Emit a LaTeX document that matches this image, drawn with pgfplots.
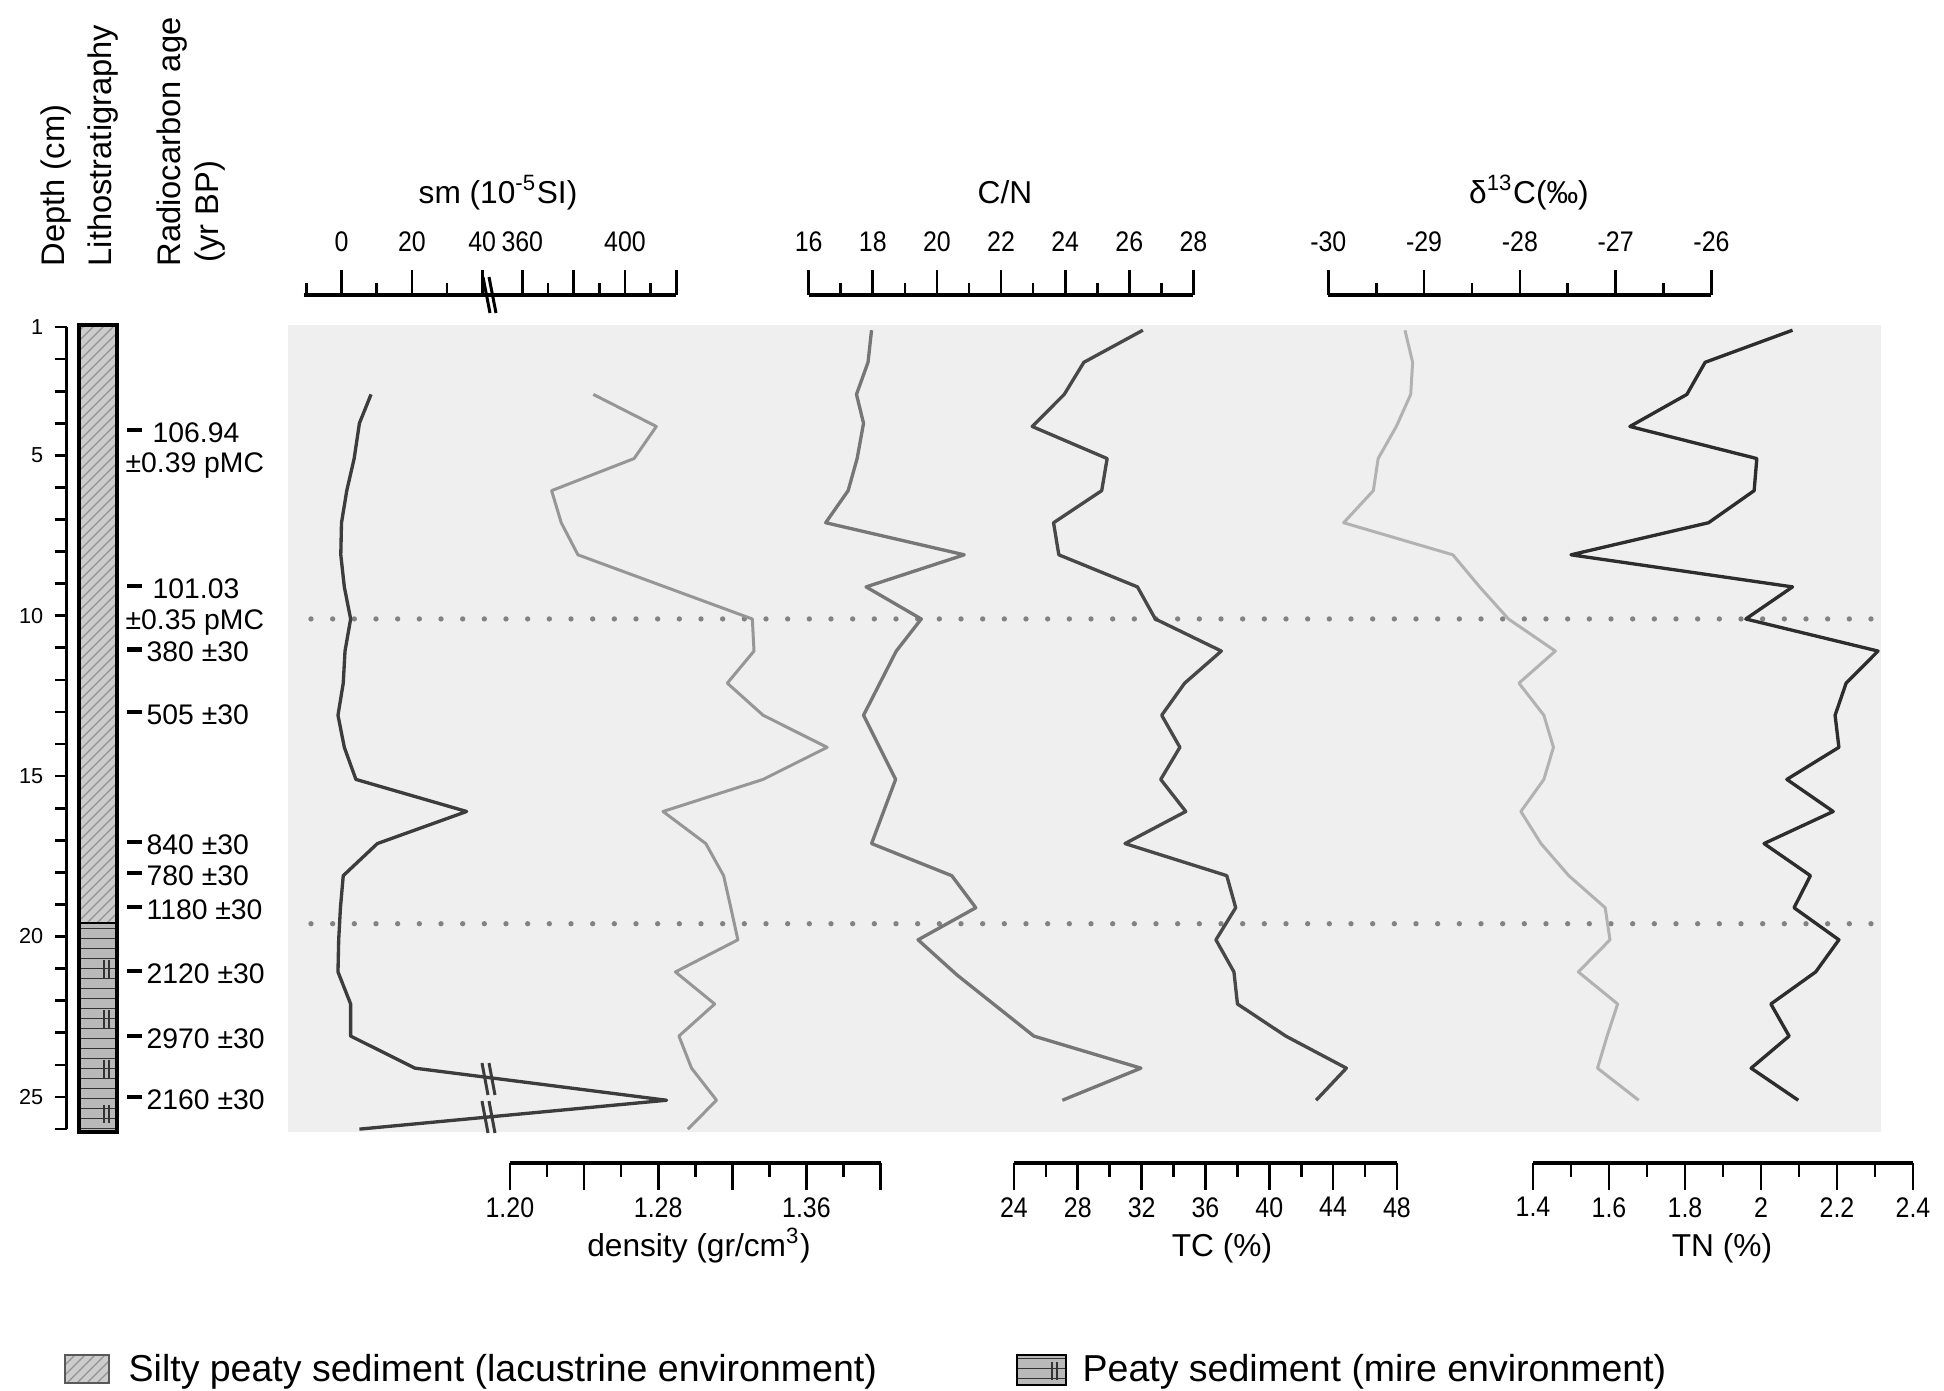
\documentclass[border=0pt]{standalone}
\usepackage{fontspec}
\setmainfont{Liberation Sans}
\newfontfamily\narrowfont{Liberation Sans}[FakeStretch=0.88]
\usepackage{pgfplots}
\pgfplotsset{compat=1.18}
\usepackage{pgfplotstable}
\usetikzlibrary{patterns}

\definecolor{bggray}{RGB}{239,239,239}
\definecolor{smcol}{RGB}{60,60,60}
\definecolor{rhocol}{RGB}{150,150,150}
\definecolor{cncol}{RGB}{118,118,118}
\definecolor{tccol}{RGB}{72,72,72}
\definecolor{dcol}{RGB}{178,178,178}
\definecolor{tncol}{RGB}{45,45,45}
\definecolor{dotcol}{RGB}{130,130,130}

% depth (cm) and value
\pgfplotstableread{
d sm
3.1 8.4
4.0 5.1
5.1 3.6
6.1 1.5
7.1 0.0
8.1 -0.2
9.1 0.8
10.1 2.6
11.1 1.0
12.1 0.5
13.1 -1.0
14.1 0.8
15.1 4.1
16.1 35.6
17.1 10.2
18.1 0.5
19.1 -0.3
20.1 -0.8
21.1 -1.0
22.1 2.6
23.1 2.6
24.1 20.9
25.1 416.2
26.0 5.1
}\smtable

\pgfplotstableread{
d rho
3.1 1.245
4.1 1.279
5.1 1.267
6.1 1.2225
7.1 1.2277
8.1 1.2367
10.1 1.3308
11.1 1.3317
12.1 1.3173
13.1 1.3366
14.1 1.3712
15.1 1.3366
16.1 1.2826
17.1 1.3057
18.1 1.3153
19.1 1.3192
20.1 1.323
21.1 1.2893
22.1 1.3105
23.1 1.2912
24.1 1.298
25.1 1.3115
26.0 1.296
}\rhotable

\pgfplotstableread{
d cn
1.1 17.96
2.1 17.85
3.1 17.49
4.0 17.71
5.1 17.51
6.1 17.23
7.1 16.53
8.1 20.85
9.1 17.79
10.1 19.51
11.1 18.73
13.1 17.71
15.1 18.71
17.1 17.96
18.1 20.46
19.1 21.21
20.1 19.41
21.2 20.63
23.1 23.02
24.1 26.36
25.1 23.91
}\cntable

\pgfplotstableread{
d tc
1.1 32.08
2.1 28.38
3.1 27.15
4.1 25.14
5.1 29.84
6.1 29.5
7.1 26.48
8.1 26.81
9.1 31.74
10.1 32.86
11.1 37.0
12.1 34.7
13.1 33.26
14.1 34.4
15.1 33.2
16.1 34.77
17.1 30.96
18.1 37.34
19.1 37.9
20.1 36.66
21.1 37.79
22.1 38.01
23.1 41.04
24.1 44.84
25.1 42.94
}\tctable

\pgfplotstableread{
d dc
1.1 -29.20
2.1 -29.12
3.1 -29.14
4.1 -29.29
5.1 -29.48
6.1 -29.53
7.1 -29.84
8.1 -28.70
9.1 -28.42
10.1 -28.12
11.1 -27.63
12.1 -28.01
13.1 -27.75
14.1 -27.65
15.1 -27.75
16.1 -27.99
17.1 -27.78
18.1 -27.49
19.1 -27.11
20.1 -27.06
21.1 -27.39
22.1 -26.98
23.1 -27.09
24.1 -27.19
25.1 -26.76
}\dctable

\pgfplotstableread{
d tn
1.1 2.083
2.1 1.853
3.1 1.805
4.1 1.655
5.1 1.989
6.1 1.982
7.1 1.862
8.1 1.50
9.1 2.083
10.1 1.96
11.1 2.308
12.1 2.224
13.1 2.195
14.1 2.205
15.1 2.068
16.1 2.19
17.1 2.008
18.1 2.13
19.1 2.087
20.1 2.205
21.1 2.144
22.1 2.026
23.1 2.074
24.1 1.974
25.1 2.098
}\tntable

\pgfplotsset{
  panel/.style={scale only axis, width=477.9pt, height=242.1pt,
    at={(86.4pt,-97.5pt)}, anchor=north west, y dir=reverse,
    ymin=0.938, ymax=26.09, hide axis, clip=false},
  curve/.style={line width=1pt, line join=round, mark=none},
  bar/.style={scale only axis, height=2pt, ymin=0, ymax=1,
    axis y line=none, ytick=\empty,
    tick style={black, line width=0.8pt},
    xticklabel style={font=\narrowfont\fontsize{8.5}{9}\selectfont},
    /pgf/number format/assume math mode=true},
  topbar/.style={bar, anchor=north west, axis x line=top,
    axis line style={-, line width=1.2pt}, tick align=outside,
    major tick length=7.5pt, minor tick length=3.6pt,
    xticklabel shift=2pt},
  botbar/.style={bar, anchor=south west, axis x line=bottom,
    axis line style={-, line width=1.2pt}, tick align=outside,
    major tick length=8.1pt, minor tick length=4.2pt,
    xticklabel shift=-1.2pt},
}
\newcommand{\titlefont}{\fontsize{9.5}{10}\selectfont}

\begin{document}
\begin{tikzpicture}[x=0.3pt,y=-0.3pt]
\fill[bggray] (288,325) rectangle (1881,1132);
\foreach \yy in {618.9,923.7}
  \draw[dotcol, line width=1.6pt, line cap=round, dash pattern=on 0pt off 6.5pt]
    (311,\yy) -- (1881,\yy);

% depth scale
\begin{axis}[scale only axis, at={(20.01pt,-98.1pt)}, anchor=north west,
  width=66.39pt, height=240.6pt, xmin=66.7, xmax=288, ymin=1, ymax=26,
  y dir=reverse, axis y line=left, axis x line=none,
  axis line style={-, line width=1pt}, tick align=outside,
  ytick={1,5,10,15,20,25}, yticklabels={1,5,10,15,20,25},
  minor ytick={2,...,26}, major tick length=3.5pt, minor tick length=3.5pt,
  tick style={black, line width=0.8pt},
  yticklabel style={font=\fontsize{6.5}{7}\selectfont},
  /pgf/number format/assume math mode=true, clip=false]
\end{axis}

% lithology column
\fill[gray!40] (79,325) rectangle (117,923);
\fill[pattern=north east lines, pattern color=gray!85] (79,325) rectangle (117,923);
\fill[gray!55] (79,923) rectangle (117,1132);
\fill[pattern=horizontal lines, pattern color=black!80] (79,923) rectangle (117,1132);
\foreach \yy in {960,1010,1060,1105}
  \draw[black!80, line width=0.5pt] (104,\yy) -- (104,\yy+18) (109,\yy) -- (109,\yy+18);
\draw[line width=1pt] (79,325) rectangle (117,1132);
\draw[line width=0.8pt] (79,923) -- (117,923);

% radiocarbon ages
\begin{scope}[every node/.style={anchor=west, inner sep=0pt,
    font=\fontsize{8.5}{9}\selectfont, text height=1.6ex, text depth=0.2ex}]
\foreach \yy/\txt/\xx in {430/106.94/152, 586/101.03/152, 649.6/380 ±30/146,
    712/505 ±30/146, 842/840 ±30/146, 873/780 ±30/146, 907/1180 ±30/146,
    971/2120 ±30/146, 1036/2970 ±30/146, 1097/2160 ±30/146}{
  \draw[line width=1.3pt] (127,\yy) -- (142,\yy);
  \node at (\xx,\yy) {\txt};
}
\node at (125,460) {±0.39 pMC};
\node at (125,617) {±0.35 pMC};
\end{scope}

% column headers
\begin{scope}[every node/.style={rotate=90, anchor=west, inner sep=0pt,
    font=\fontsize{9.8}{10}\selectfont}]
\node at (56,267) {Depth (cm)};
\node at (103,267) {Lithostratigraphy};
\node at (172,267) {Radiocarbon age};
\node at (210,263) {(yr BP)};
\end{scope}

% magnetic susceptibility, broken scale
\begin{axis}[panel, xmin=288, xmax=1881]
\addplot[curve, smcol] table[y=d,
  x expr={\thisrow{sm}<100 ? 341.5+3.515*\thisrow{sm} : 522.3+2.567*(\thisrow{sm}-360)}]
  {\smtable};
\end{axis}
\begin{axis}[panel, xmin=1.08028, xmax=1.93973]
\addplot[curve, rhocol, line width=0.9pt] table[x=rho, y=d] {\rhotable};
\end{axis}
\begin{axis}[panel, xmin=-0.236, xmax=49.436]
\addplot[curve, cncol] table[x=cn, y=d] {\cntable};
\end{axis}
\begin{axis}[panel, xmin=-21.517, xmax=78.357]
\addplot[curve, tccol] table[x=tc, y=d] {\tctable};
\end{axis}
\begin{axis}[panel, xmin=-40.859, xmax=-24.231]
\addplot[curve, dcol, line width=0.9pt] table[x=dc, y=d] {\dctable};
\end{axis}
\begin{axis}[panel, xmin=-1.8763, xmax=2.31579]
\addplot[curve, tncol] table[x=tn, y=d] {\tntable};
\end{axis}

% break marks on the sm curve
\foreach \yy in {1079,1117}{
  \draw[smcol, line width=0.9pt] (482,\yy-16) -- (488,\yy+16) (489,\yy-16) -- (495,\yy+16);
}

% top scales
\begin{axis}[topbar, at={(91.08pt,-88.5pt)}, width=56.22pt, xmin=-10.8, xmax=42.5,
  xtick={0,20,40}, xticklabels={0,20,40}, minor xtick={-10,10,30}]
\end{axis}
\begin{axis}[topbar, at={(147.3pt,-88.5pt)}, width=55.59pt, xmin=347.8, xmax=420,
  xtick={360,380,400,420}, xticklabels={360,,400,}, minor xtick={370,390,410}]
\end{axis}
\draw[line width=0.9pt] (483,277) -- (490,313) (489,277) -- (496,313);
\begin{axis}[topbar, at={(242.61pt,-88.5pt)}, width=115.44pt, xmin=16, xmax=28,
  xtick={16,18,...,28}, xticklabels={16,18,20,22,24,26,28},
  minor xtick={17,19,...,27}]
\end{axis}
\begin{axis}[topbar, at={(398.49pt,-88.5pt)}, width=114.96pt, xmin=-30, xmax=-26,
  xtick={-30,-29,-28,-27,-26}, xticklabels={-30,-29,-28,-27,-26},
  minor xtick={-29.5,-28.5,-27.5,-26.5}]
\end{axis}

% bottom scales
\begin{axis}[botbar, at={(152.97pt,-348.81pt)}, width=111.21pt, xmin=1.2, xmax=1.4,
  xtick={1.2,1.24,1.28,1.32,1.36,1.4}, xticklabels={1.20,,1.28,,1.36,},
  minor xtick={1.22,1.26,1.30,1.34,1.38}]
\end{axis}
\begin{axis}[botbar, at={(304.2pt,-348.81pt)}, width=114.87pt, xmin=24, xmax=48,
  xtick={24,28,...,48}, xticklabels={24,28,32,36,40,44,48},
  minor xtick={26,30,...,46}]
\end{axis}
\begin{axis}[botbar, at={(459.9pt,-348.81pt)}, width=114pt, xmin=1.4, xmax=2.4,
  xtick={1.4,1.6,1.8,2.0,2.2,2.4}, xticklabels={1.4,1.6,1.8,2,2.2,2.4},
  minor xtick={1.5,1.7,1.9,2.1,2.3}]
\end{axis}

% scale titles
\begin{scope}[every node/.style={anchor=base, inner sep=0pt, font=\titlefont}]
\node at (498,203) {sm (10\textsuperscript{-5}SI)};
\node at (1005,203) {C/N};
\node at (1529,203) {δ\textsuperscript{13}C(‰)};
\node at (699,1256) {density (gr/cm\textsuperscript{3})};
\node at (1222,1256) {TC (\%)};
\node at (1722,1256) {TN (\%)};
\end{scope}

% legend
\fill[gray!40] (65,1355) rectangle (109,1383);
\fill[pattern=north east lines, pattern color=gray!85] (65,1355) rectangle (109,1383);
\draw[gray!70!black, line width=0.6pt] (65,1355) rectangle (109,1383);
\node[anchor=base west, inner sep=0pt, font=\fontsize{11.25}{12}\selectfont]
  at (128,1381) {Silty peaty sediment (lacustrine environment)};
\fill[gray!55] (1017,1355) rectangle (1066,1385);
\fill[pattern=horizontal lines, pattern color=black!80] (1017,1355) rectangle (1066,1385);
\draw[black!80, line width=0.5pt] (1052,1362) -- (1052,1380) (1057,1362) -- (1057,1380);
\draw[line width=0.8pt] (1017,1355) rectangle (1066,1385);
\node[anchor=base west, inner sep=0pt, font=\fontsize{11.25}{12}\selectfont]
  at (1082,1381) {Peaty sediment (mire environment)};

\pgfresetboundingbox
\path[use as bounding box] (0,0) rectangle (1944,1390);
\end{tikzpicture}
\end{document}
